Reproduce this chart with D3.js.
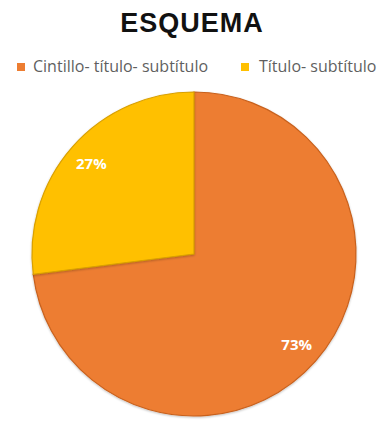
<!DOCTYPE html>
<html>
<head>
<meta charset="utf-8">
<script src="https://cdn.jsdelivr.net/npm/d3@7"></script>
<style>
  html, body { margin: 0; padding: 0; background: #ffffff; }
  svg { display: block; }
</style>
</head>
<body>
<svg id="chart" width="384" height="421"></svg>
<script>
// Chart data
const title = "ESQUEMA";
const categories = ["Cintillo- título- subtítulo", "Título- subtítulo"];
const values = [73, 27];
const colors = ["#ED7D31", "#FFC000"];
const edgeColors = ["#C8611E", "#D9A000"];

const svg = d3.select("#chart");
const width = 384, height = 421;
const cx = 194, cy = 254, radius = 162;

// Soft bevel-like shading on the slices
const defs = svg.append("defs");
const f = defs.append("filter").attr("id", "shade")
  .attr("x", "-10%").attr("y", "-10%").attr("width", "120%").attr("height", "120%");
f.append("feGaussianBlur").attr("in", "SourceAlpha").attr("stdDeviation", 1.2).attr("result", "b");
f.append("feOffset").attr("in", "b").attr("dx", 0).attr("dy", 0.5).attr("result", "o");
f.append("feFlood").attr("flood-color", "#000").attr("flood-opacity", 0.25);
f.append("feComposite").attr("in2", "o").attr("operator", "in").attr("result", "s");
const m = f.append("feMerge");
m.append("feMergeNode").attr("in", "s");
m.append("feMergeNode").attr("in", "SourceGraphic");

// Title
svg.append("text")
  .attr("x", width / 2).attr("y", 32)
  .attr("text-anchor", "middle")
  .attr("font-family", "'Liberation Sans', Arial, sans-serif")
  .attr("font-weight", "bold")
  .attr("font-size", 27)
  .attr("letter-spacing", 1)
  .attr("fill", "#111111")
  .text(title);

// Legend
const legendItems = [
  { x: 17, textX: 33 },
  { x: 241, textX: 259 }
];
const legend = svg.append("g");
categories.forEach((c, i) => {
  legend.append("rect")
    .attr("x", legendItems[i].x).attr("y", 63)
    .attr("width", 8).attr("height", 8)
    .attr("fill", colors[i]);
  legend.append("text")
    .attr("x", legendItems[i].textX).attr("y", 72)
    .attr("font-family", "'Open Sans', 'Noto Sans', sans-serif")
    .attr("font-size", 16)
    .attr("fill", "#5f5f5f")
    .text(c);
});

// Pie: first series clockwise from 12 o'clock
const pie = d3.pie().sort(null).value(d => d)(values);
const arc = d3.arc().innerRadius(0).outerRadius(radius);
const total = d3.sum(values);

const g = svg.append("g").attr("transform", `translate(${cx},${cy})`);
g.selectAll("path.slice")
  .data(pie)
  .join("path")
  .attr("class", "slice")
  .attr("d", arc)
  .attr("fill", (d, i) => colors[i])
  .attr("stroke", (d, i) => edgeColors[i])
  .attr("stroke-width", 1.2)
  .attr("filter", "url(#shade)");

// Percentage labels
const labelArc = d3.arc().innerRadius(radius * 0.845).outerRadius(radius * 0.845);
g.selectAll("text.pct")
  .data(pie)
  .join("text")
  .attr("class", "pct")
  .attr("transform", d => {
    const [x, y] = labelArc.centroid(d);
    return `translate(${x},${y})`;
  })
  .attr("text-anchor", "middle")
  .attr("dy", "0.35em")
  .attr("font-family", "'Open Sans', 'Noto Sans', sans-serif")
  .attr("font-weight", "bold")
  .attr("font-size", 15)
  .attr("fill", "#FFFFFF")
  .text(d => Math.round(d.value / total * 100) + "%");
</script>
</body>
</html>
